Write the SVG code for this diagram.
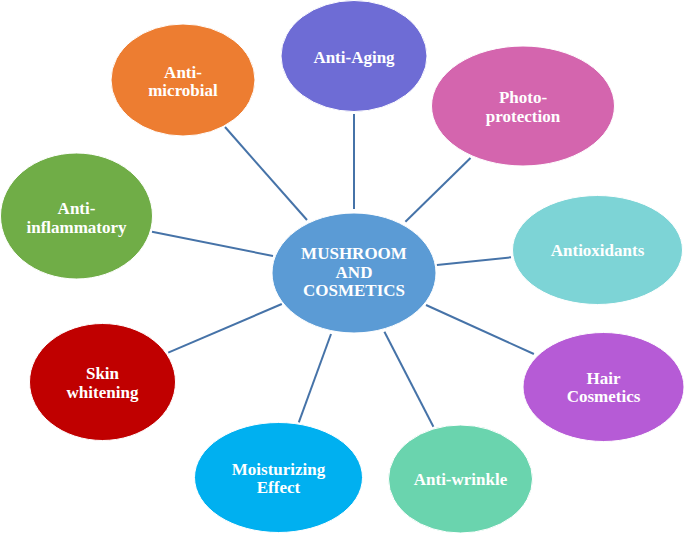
<svg xmlns="http://www.w3.org/2000/svg" width="685" height="533" viewBox="0 0 685 533">
<style>
.n{stroke:#ffffff;stroke-width:1}
.t{font-family:"Liberation Serif","Times New Roman",serif;font-weight:bold;font-size:17px;fill:#ffffff;text-anchor:middle}
.c line{stroke:#4673A8;stroke-width:2}
</style>
<rect width="685" height="533" fill="#ffffff"/>
<g class="c" id="connectors">
<line x1="225" y1="127" x2="307" y2="220"/>
<line x1="354" y1="114" x2="354" y2="209"/>
<line x1="470.5" y1="158" x2="405.4" y2="221.7"/>
<line x1="152" y1="231.7" x2="273" y2="256"/>
<line x1="436.9" y1="265" x2="511" y2="257.3"/>
<line x1="168.2" y1="352.7" x2="281.8" y2="304"/>
<line x1="426" y1="305" x2="533.9" y2="354"/>
<line x1="331" y1="334" x2="298.8" y2="422.3"/>
<line x1="384.4" y1="331.7" x2="433.4" y2="426.7"/>
</g>
<g id="center">
<ellipse class="n" cx="354" cy="273" rx="82" ry="60" fill="#5B9BD5"/>
<text class="t" x="354" y="259">MUSHROOM</text>
<text class="t" x="354" y="278">AND</text>
<text class="t" x="354" y="296">COSMETICS</text>
</g>
<g id="anti-aging">
<ellipse class="n" cx="354" cy="56" rx="73" ry="55.5" fill="#6E6CD5"/>
<text class="t" x="354" y="62.5">Anti-Aging</text>
</g>
<g id="anti-microbial">
<ellipse class="n" cx="183" cy="80" rx="72" ry="56" fill="#ED7D31"/>
<text class="t" x="183" y="77.5">Anti-</text>
<text class="t" x="183" y="96">microbial</text>
</g>
<g id="photo-protection">
<ellipse class="n" cx="523" cy="106" rx="91.5" ry="60" fill="#D465AE"/>
<text class="t" x="523" y="103">Photo-</text>
<text class="t" x="523" y="122">protection</text>
</g>
<g id="anti-inflammatory">
<ellipse class="n" cx="76.5" cy="216" rx="76" ry="63" fill="#70AD47"/>
<text class="t" x="76.5" y="214">Anti-</text>
<text class="t" x="76.5" y="233">inflammatory</text>
</g>
<g id="antioxidants">
<ellipse class="n" cx="597.5" cy="250" rx="85" ry="54.5" fill="#7DD4D6"/>
<text class="t" x="597.5" y="256">Antioxidants</text>
</g>
<g id="skin-whitening">
<ellipse class="n" cx="102.5" cy="382" rx="73" ry="58.5" fill="#C00000"/>
<text class="t" x="102.5" y="379">Skin</text>
<text class="t" x="102.5" y="397.5">whitening</text>
</g>
<g id="hair-cosmetics">
<ellipse class="n" cx="603.5" cy="387" rx="80.5" ry="54.5" fill="#B65BD6"/>
<text class="t" x="603.5" y="384">Hair</text>
<text class="t" x="603.5" y="402">Cosmetics</text>
</g>
<g id="moisturizing-effect">
<ellipse class="n" cx="278.5" cy="477.5" rx="84" ry="55" fill="#00B0F0"/>
<text class="t" x="278.5" y="475">Moisturizing</text>
<text class="t" x="278.5" y="492.5">Effect</text>
</g>
<g id="anti-wrinkle">
<ellipse class="n" cx="460.5" cy="479" rx="72" ry="54" fill="#6AD4AE"/>
<text class="t" x="460.5" y="485">Anti-wrinkle</text>
</g>
</svg>
